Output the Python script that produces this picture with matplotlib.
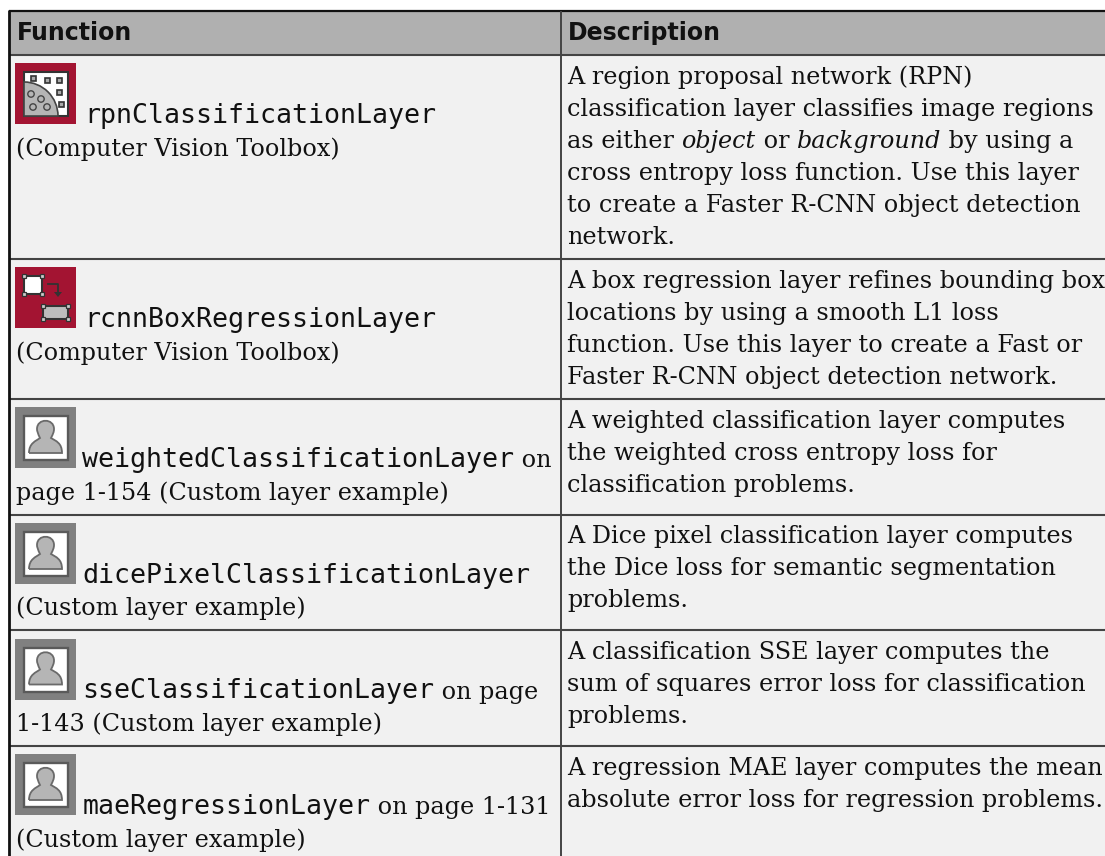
import matplotlib
matplotlib.use("Agg")
import matplotlib.pyplot as plt
from matplotlib.patches import Rectangle, Circle, Polygon, Wedge, PathPatch
from matplotlib.path import Path

W, H = 1105, 856
SERIF = "DejaVu Serif"
MONO = "DejaVu Sans Mono"
HEAD = "DejaVu Sans"

header_labels = ["Function", "Description"]
icon_kinds = ["rpn", "box", "person", "person", "person", "person"]
function_names = ["rpnClassificationLayer", "rcnnBoxRegressionLayer", "weightedClassificationLayer",
                  "dicePixelClassificationLayer", "sseClassificationLayer", "maeRegressionLayer"]
function_suffix = ["", "", " on", "", " on page", " on page 1-131"]
function_second = ["(Computer Vision Toolbox)", "(Computer Vision Toolbox)", "page 1-154 (Custom layer example)",
                   "(Custom layer example)", "1-143 (Custom layer example)", "(Custom layer example)"]
descriptions = [
    [[("A region proposal network (RPN)", 0)],
     [("classification layer classifies image regions", 0)],
     [("as either ", 0), ("object", 1), (" or ", 0), ("background", 1), (" by using a", 0)],
     [("cross entropy loss function. Use this layer", 0)],
     [("to create a Faster R-CNN object detection", 0)],
     [("network.", 0)]],
    [[("A box regression layer refines bounding box", 0)],
     [("locations by using a smooth L1 loss", 0)],
     [("function. Use this layer to create a Fast or", 0)],
     [("Faster R-CNN object detection network.", 0)]],
    [[("A weighted classification layer computes", 0)],
     [("the weighted cross entropy loss for", 0)],
     [("classification problems.", 0)]],
    [[("A Dice pixel classification layer computes", 0)],
     [("the Dice loss for semantic segmentation", 0)],
     [("problems.", 0)]],
    [[("A classification SSE layer computes the", 0)],
     [("sum of squares error loss for classification", 0)],
     [("problems.", 0)]],
    [[("A regression MAE layer computes the mean", 0)],
     [("absolute error loss for regression problems.", 0)]],
]

# layout, in pixels
row_lines = [54.5, 259, 399, 514.5, 630, 746, 856]
col_x = 561
left, top = 9, 10.5
fs = 17.2
mono_fs = 19.2
head_fs = 17.0
line_h = 32
INK = "#111111"

fig = plt.figure(figsize=(W / 100, H / 100), dpi=100, facecolor="white")
ax = fig.add_axes([0, 0, 1, 1])
ax.set_xlim(0, W)
ax.set_ylim(H, 0)
ax.axis("off")
rend = fig.canvas.get_renderer()

ax.add_patch(Rectangle((left, row_lines[0]), W - left, H - row_lines[0], fc="#f1f1f1", ec="none"))
ax.add_patch(Rectangle((left, top), W - left, row_lines[0] - top, fc="#b0b0b0", ec="none"))
for y in row_lines[:-1]:
    ax.plot([left, W], [y, y], color="#444444", lw=1.5, solid_capstyle="butt")
ax.plot([left, W], [top, top], color="#111111", lw=1.6, solid_capstyle="butt")
ax.plot([left, left], [top - 1, H], color="#111111", lw=2.0, solid_capstyle="butt")
ax.plot([col_x, col_x], [top, H], color="#444444", lw=1.4, solid_capstyle="butt")

for x, s in zip([17, col_x + 7], header_labels):
    ax.text(x, 40, s, family=HEAD, weight="bold", size=head_fs, va="baseline", ha="left", color=INK)


def runs(x, y, parts):
    for s, italic in parts:
        t = ax.text(x, y, s, family=SERIF, size=fs, style="italic" if italic else "normal",
                    va="baseline", ha="left", color=INK)
        w, _, _ = rend.get_text_width_height_descent(s.replace(" ", "\u00a0"), t.get_fontproperties(), False)
        x += w
    return x


def icon(x, y, kind):
    s = 61
    bg = {"rpn": "#a31432", "box": "#a31432", "person": "#808080"}[kind]
    ax.add_patch(Rectangle((x, y), s, s, fc=bg, ec="none"))
    if kind == "rpn":
        ax.add_patch(Rectangle((x + 9, y + 9), 44, 44, fc="white", ec="#333333", lw=1.5))
        ax.add_patch(Wedge((x + 9, y + 53), 34, 270, 360, fc="#b5b5b5", ec="#444444", lw=1.2))
        for dx, dy in [(18, 15), (32, 17), (44, 17), (44, 29), (46, 41)]:
            ax.add_patch(Rectangle((x + dx - 2.5, y + dy - 2.5), 5, 5, fc="#aaaaaa", ec="#333333", lw=1.2))
        for dx, dy in [(16, 31), (26, 36), (18, 44), (32, 44)]:
            ax.add_patch(Circle((x + dx, y + dy), 3.2, fc="#b5b5b5", ec="#444444", lw=1))
    elif kind == "box":
        ax.add_patch(Rectangle((x + 9, y + 9), 18, 18, fc="white", ec="#333333", lw=1.5))
        ax.add_patch(Rectangle((x + 28, y + 39), 25, 13, fc="#bdbdbd", ec="#333333", lw=1.5))
        for dx, dy in [(9, 9), (27, 9), (9, 27), (27, 27), (28, 39), (53, 39), (28, 52), (53, 52)]:
            ax.add_patch(Rectangle((x + dx - 2, y + dy - 2), 4, 4, fc="#cccccc", ec="#333333", lw=0.9))
        ax.plot([x + 33, x + 43, x + 43], [y + 17, y + 17, y + 25], color="#333333", lw=1.3)
        ax.add_patch(Polygon([(x + 39, y + 25), (x + 47, y + 25), (x + 43, y + 30)], fc="#333333", ec="none"))
    else:
        ax.add_patch(Rectangle((x + 9, y + 9), 44, 44, fc="white", ec="#5a5a5a", lw=1.7))
        verts = [(x + 14, y + 46), (x + 14, y + 36), (x + 21, y + 34), (x + 25, y + 31),
                 (x + 23, y + 27), (x + 22, y + 24), (x + 22, y + 22),
                 (x + 22, y + 11), (x + 39, y + 11), (x + 39, y + 22),
                 (x + 39, y + 25), (x + 38, y + 27), (x + 36, y + 31),
                 (x + 41, y + 34), (x + 47, y + 36), (x + 47, y + 46), (x + 14, y + 46)]
        codes = [Path.MOVETO] + [Path.CURVE4] * 15 + [Path.LINETO]
        ax.add_patch(PathPatch(Path(verts, codes), fc="#b5b5b5", ec="#6a6a6a", lw=1.3))


icon_offset = [8.5, 8, 8, 8.5, 8.5, 8]
for i in range(6):
    y0 = row_lines[i]
    itop = y0 + icon_offset[i]
    icon(15, itop, icon_kinds[i])
    base1 = itop + 60
    mono_x = 84.5 if icon_kinds[i] != "person" else 82.5
    t = ax.text(mono_x, base1, function_names[i], family=MONO, size=mono_fs, va="baseline", ha="left", color=INK)
    if function_suffix[i]:
        w, _, _ = rend.get_text_width_height_descent(function_names[i], t.get_fontproperties(), False)
        runs(mono_x + w, base1, [(function_suffix[i], 0)])
    runs(16, base1 + 32.5, [(function_second[i], 0)])
    for j, parts in enumerate(descriptions[i]):
        runs(col_x + 6, y0 + 29 + j * line_h, parts)

fig.savefig("out.png", dpi=100, facecolor="white")
